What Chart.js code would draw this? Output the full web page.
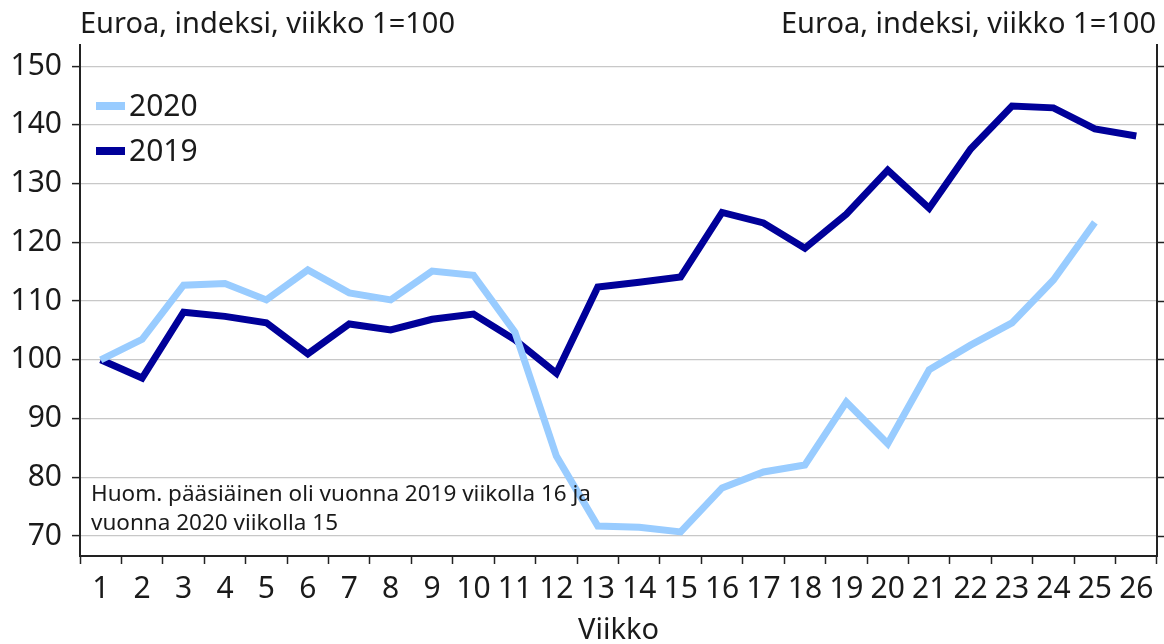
<!DOCTYPE html>
<html>
<head>
<meta charset="utf-8">
<script src="https://cdn.jsdelivr.net/npm/chart.js@4/dist/chart.umd.min.js"></script>
<style>
  html, body { margin: 0; padding: 0; background: #ffffff; }
  #wrap { width: 1164px; height: 644px; position: relative; }
</style>
</head>
<body>
<div id="wrap"><canvas id="c" width="1164" height="644"></canvas></div>
<script>
const weeks = ['1','2','3','4','5','6','7','8','9','10','11','12','13','14','15','16','17','18','19','20','21','22','23','24','25','26'];
const values2020 = [100, 103.5, 112.7, 113, 110.2, 115.3, 111.4, 110.2, 115.1, 114.4, 104.7, 83.6, 71.7, 71.5, 70.7, 78.2, 80.9, 82.1, 92.8, 85.7, 98.3, 102.5, 106.3, 113.6, 123.4, null];
const values2019 = [100, 96.9, 108.1, 107.4, 106.3, 101, 106.1, 105.1, 106.9, 107.8, 103.4, 97.7, 112.4, 113.2, 114.1, 125.1, 123.3, 119, 124.8, 132.3, 125.8, 135.9, 143.2, 142.9, 139.3, 138.1];
const seriesNames = ['2020', '2019'];
const unitLabel = 'Euroa, indeksi, viikko 1=100';
const xTitle = 'Viikko';
const noteLines = ['Huom. pääsiäinen oli vuonna 2019 viikolla 16 ja', 'vuonna 2020 viikolla 15'];

const FONT = "'Noto Sans', 'Open Sans', sans-serif";
const C2020 = '#99ccff';
const C2019 = '#000099';
const TXT = '#1a1a1a';
const AXIS = '#222222';
const GRID = '#c8c8c8';

const overlay = {
  id: 'overlay',
  afterDatasetsDraw(chart) {
    const ctx = chart.ctx;
    ctx.save();
    ctx.fillStyle = TXT;
    ctx.font = '22.5px ' + FONT;
    ctx.textAlign = 'left';
    ctx.textBaseline = 'middle';
    ctx.fillText(noteLines[0], 91, 495);
    ctx.fillText(noteLines[1], 91, 524);
    ctx.restore();
  },
  afterDraw(chart) {
    const ctx = chart.ctx;
    ctx.save();
    ctx.fillStyle = TXT;
    ctx.font = '29px ' + FONT;
    ctx.textBaseline = 'alphabetic';
    ctx.textAlign = 'left';
    ctx.fillText(unitLabel, 80, 33);
    ctx.textAlign = 'right';
    ctx.fillText(unitLabel, 1156, 33);
    // legend
    const items = [[seriesNames[0], C2020, 106], [seriesNames[1], C2019, 151]];
    ctx.font = '30px ' + FONT;
    ctx.textAlign = 'left';
    ctx.textBaseline = 'middle';
    items.forEach(([name, col, y]) => {
      ctx.fillStyle = col;
      ctx.fillRect(96, y - 4, 29, 8);
      ctx.fillStyle = TXT;
      ctx.fillText(name, 129, y + 1);
    });
    ctx.restore();
  }
};

new Chart(document.getElementById('c'), {
  type: 'line',
  data: {
    labels: weeks,
    datasets: [
      { label: seriesNames[0], data: values2020, borderColor: C2020, backgroundColor: C2020, borderWidth: 7, pointRadius: 0, tension: 0, borderJoinStyle: 'miter', borderCapStyle: 'butt', spanGaps: false },
      { label: seriesNames[1], data: values2019, borderColor: C2019, backgroundColor: C2019, borderWidth: 7, pointRadius: 0, tension: 0, borderJoinStyle: 'miter', borderCapStyle: 'butt' }
    ]
  },
  options: {
    responsive: false,
    animation: false,
    devicePixelRatio: 1,
    layout: { padding: { top: 45, left: 0, right: 0, bottom: 0 } },
    plugins: { legend: { display: false }, tooltip: { enabled: false } },
    scales: {
      x: {
        type: 'category',
        offset: true,
        grid: { display: true, offset: true, drawOnChartArea: false, drawTicks: true, tickLength: 8, tickColor: AXIS, tickWidth: 1.5 },
        border: { display: true, color: AXIS, width: 2 },
        ticks: { color: TXT, font: { family: FONT, size: 30 }, padding: 7, maxRotation: 0, autoSkip: false },
        title: { display: true, text: xTitle, color: TXT, font: { family: FONT, size: 29, lineHeight: 0.9 }, padding: { top: 0, bottom: 0 } },
        afterFit(s) { s.height = 88; }
      },
      y: {
        position: 'left',
        min: 66.6,
        max: 153.6,
        grid: { color: GRID, lineWidth: 1.2, drawTicks: true, tickLength: 8, tickColor: AXIS, tickWidth: 1.5 },
        border: { display: true, color: AXIS, width: 2 },
        ticks: { stepSize: 10, includeBounds: false, color: TXT, font: { family: FONT, size: 30 }, padding: 10 },
        afterFit(s) { s.width = 80; }
      },
      y2: {
        position: 'right',
        min: 66.6,
        max: 153.6,
        grid: { drawOnChartArea: false, drawTicks: true, tickLength: 7, tickColor: AXIS, tickWidth: 1.5 },
        border: { display: true, color: AXIS, width: 2 },
        ticks: { stepSize: 10, includeBounds: false, display: false }
      }
    }
  },
  plugins: [overlay]
});
</script>
</body>
</html>
